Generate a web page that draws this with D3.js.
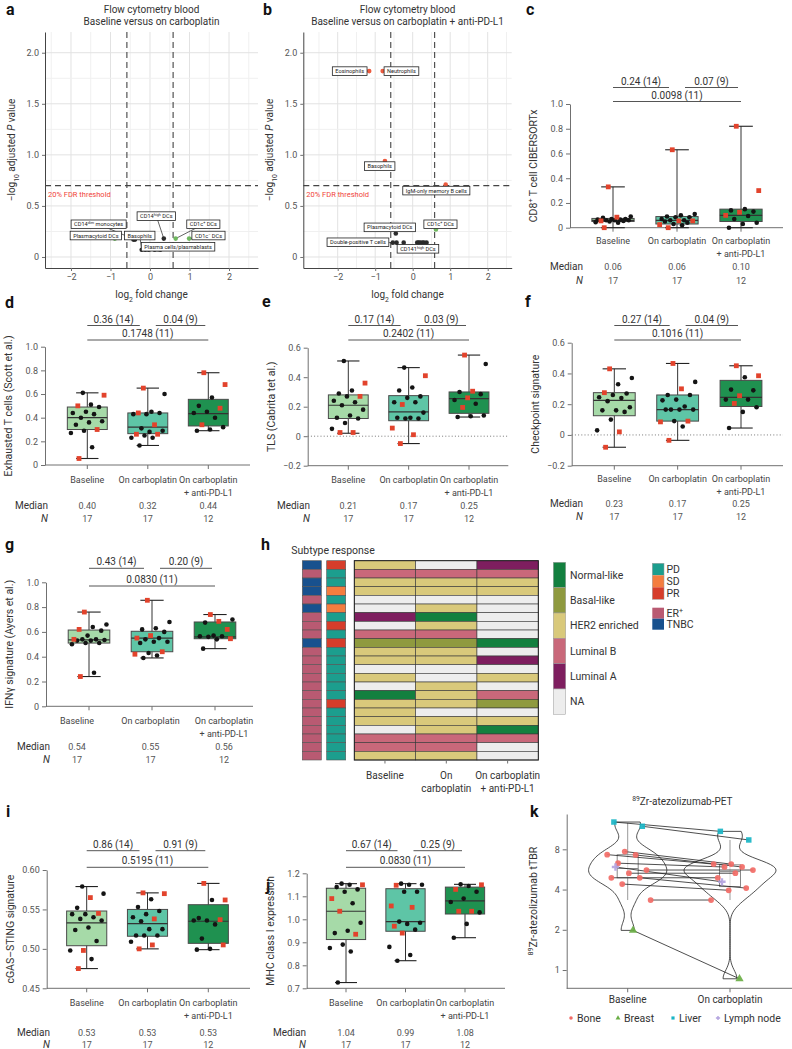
<!DOCTYPE html>
<html><head><meta charset="utf-8">
<script src="https://cdn.jsdelivr.net/npm/d3@7"></script>
<style>
body{margin:0;background:#fff}
text{font-family:Roboto,"Noto Sans",sans-serif}
</style></head><body>
<svg id="fig" width="792" height="1049"></svg>
<script>
// ---------------- data ----------------
const groups = ["Baseline", "On carboplatin", "On carboplatin + anti-PD-L1"];
const groupLines = [["Baseline"], ["On carboplatin"], ["On carboplatin", "+ anti-PD-L1"]];
const groupFill = ["#a6daa8", "#5ec5a6", "#1f9150"];
const groupN = [17, 17, 12];

// volcano a: baseline vs on carboplatin
const aNames = ["Plasmacytoid DCs", "CD14^dim^ monocytes", "Basophils", "CD14^high^ DCs", "Plasma cells/plasmablasts", "CD1c^+^ DCs", "CD1c^−^ DCs", "", "", "", "", "", "", ""];
const aFC = [-0.89, -0.38, -0.21, 0.35, 0.46, 0.65, 0.99, -0.42, -0.12, -0.03, 0.05, 0.12, 0.20, 0.26];
const aP = [0.18, 0.17, 0.07, 0.18, 0.11, 0.18, 0.18, 0.17, 0.07, 0.07, 0.08, 0.07, 0.075, 0.07];
// volcano b: baseline vs on carboplatin + anti-PD-L1
const bNames = ["Eosinophils", "Neutrophils", "Basophils", "IgM-only memory B cells", "CD1c^+^ DCs", "Plasmacytoid DCs", "Double-positive T cells", "CD141^high^ DCs", "", "", "", "", "", "", ""];
const bFC = [-1.16, -0.80, -0.74, 0.88, 0.62, -0.45, -0.53, 0.26, -0.43, -0.24, 0.12, 0.16, 0.20, 0.30, 0.37];
const bP = [1.82, 1.82, 0.94, 0.71, 0.27, 0.23, 0.14, 0.14, 0.14, 0.14, 0.14, 0.14, 0.14, 0.14, 0.14];
const fcCut = 0.585, fdrCut = 0.699;

// box panels: stats = [min, q1, median, q3, max]
const cStats = [[0, 0.05, 0.06, 0.075, 0.33], [0, 0.03, 0.06, 0.09, 0.63], [0, 0.05, 0.10, 0.15, 0.82]];
const cBlack = [[0.06, 0.06, 0.055, 0.065, 0.07, 0.09, 0.05, 0.045, 0.06, 0.065, 0.07, 0.08, 0.04], [0.10, 0.11, 0.09, 0.085, 0.07, 0.06, 0.05, 0.04, 0.03, 0.02, 0.085, 0.06], [0.15, 0.14, 0.13, 0.095, 0.07, 0.04, 0.03, 0]];
const cRed = [[0.33, 0, 0.055, 0.085], [0.63, 0, 0.055, 0.025, 0.055], [0.82, 0.30, 0.125, 0.10]];
const cPval = ["0.24 (14)", "0.07 (9)", "0.0098 (11)"];
const cMed = ["0.06", "0.06", "0.10"];

const dStats = [[0.055, 0.30, 0.40, 0.49, 0.61], [0.165, 0.265, 0.32, 0.44, 0.65], [0.29, 0.33, 0.435, 0.555, 0.78]];
const dBlack = [[0.61, 0.51, 0.49, 0.45, 0.44, 0.43, 0.40, 0.37, 0.36, 0.34, 0.29, 0.27, 0.15], [0.60, 0.45, 0.44, 0.43, 0.43, 0.31, 0.29, 0.28, 0.25, 0.23, 0.23, 0.165], [0.57, 0.50, 0.45, 0.44, 0.40, 0.32, 0.30, 0.29]];
const dRed = [[0.59, 0.50, 0.30, 0.055], [0.65, 0.44, 0.34, 0.26, 0.26], [0.78, 0.68, 0.48, 0.34]];
const dPval = ["0.36 (14)", "0.04 (9)", "0.1748 (11)"];
const dMed = ["0.40", "0.32", "0.44"];

const eStats = [[0.02, 0.12, 0.21, 0.28, 0.51], [-0.05, 0.105, 0.165, 0.275, 0.465], [0.13, 0.155, 0.255, 0.30, 0.55]];
const eBlack = [[0.51, 0.31, 0.29, 0.27, 0.24, 0.23, 0.21, 0.18, 0.14, 0.125, 0.12, 0.09, 0.05], [0.465, 0.33, 0.31, 0.27, 0.26, 0.23, 0.23, 0.16, 0.125, 0.125, 0.12, 0.12], [0.49, 0.30, 0.285, 0.245, 0.22, 0.14, 0.13, 0.135]];
const eRed = [[0.36, 0.27, 0.025, 0.025], [0.41, 0.215, 0.055, 0.01, -0.05], [0.55, 0.305, 0.26, 0.195]];
const ePval = ["0.17 (14)", "0.03 (9)", "0.2402 (11)"];
const eMed = ["0.21", "0.17", "0.25"];

const fStats = [[-0.08, 0.125, 0.225, 0.275, 0.43], [-0.035, 0.09, 0.165, 0.26, 0.465], [0.045, 0.185, 0.245, 0.355, 0.45]];
const fBlack = [[0.37, 0.33, 0.27, 0.26, 0.24, 0.22, 0.245, 0.18, 0.16, 0.16, 0.15, 0.10, 0.03], [0.345, 0.26, 0.26, 0.225, 0.23, 0.185, 0.165, 0.165, 0.165, 0.165, 0.09, 0.055], [0.375, 0.295, 0.29, 0.23, 0.23, 0.18, 0.15, 0.045]];
const fRed = [[0.43, 0.275, 0.02, -0.08], [0.465, 0.30, 0.09, 0.085, -0.035], [0.45, 0.385, 0.255, 0.205]];
const fPval = ["0.27 (14)", "0.04 (9)", "0.1016 (11)"];
const fMed = ["0.23", "0.17", "0.25"];

const gStats = [[0.24, 0.51, 0.535, 0.615, 0.76], [0.39, 0.44, 0.55, 0.605, 0.855], [0.465, 0.545, 0.56, 0.68, 0.74]];
const gBlack = [[0.66, 0.64, 0.61, 0.57, 0.54, 0.54, 0.535, 0.53, 0.53, 0.51, 0.51, 0.50, 0.27], [0.68, 0.63, 0.62, 0.60, 0.55, 0.54, 0.52, 0.52, 0.51, 0.43, 0.41, 0.39], [0.70, 0.675, 0.57, 0.565, 0.565, 0.56, 0.54, 0.465]];
const gRed = [[0.76, 0.62, 0.54, 0.24], [0.855, 0.57, 0.55, 0.44, 0.42], [0.74, 0.685, 0.62, 0.545]];
const gPval = ["0.43 (14)", "0.20 (9)", "0.0830 (11)"];
const gMed = ["0.54", "0.55", "0.56"];

const iStats = [[0.475, 0.504, 0.533, 0.548, 0.579], [0.50, 0.516, 0.532, 0.55, 0.571], [0.499, 0.507, 0.535, 0.556, 0.583]];
const iBlack = [[0.579, 0.570, 0.552, 0.544, 0.544, 0.540, 0.538, 0.536, 0.527, 0.524, 0.510, 0.498, 0.487], [0.563, 0.553, 0.548, 0.544, 0.540, 0.535, 0.525, 0.525, 0.517, 0.517, 0.517, 0.509], [0.562, 0.539, 0.536, 0.536, 0.531, 0.513, 0.500, 0.499]];
const iRed = [[0.565, 0.545, 0.498, 0.475], [0.571, 0.570, 0.538, 0.505, 0.500], [0.583, 0.562, 0.537, 0.505]];
const iPval = ["0.86 (14)", "0.91 (9)", "0.5195 (11)"];
const iMed = ["0.53", "0.53", "0.53"];

const jStats = [[0.725, 0.912, 1.035, 1.135, 1.155], [0.82, 0.948, 0.99, 1.133, 1.155], [0.92, 1.023, 1.08, 1.14, 1.152]];
const jBlack = [[1.155, 1.15, 1.14, 1.13, 1.12, 1.07, 0.985, 0.95, 0.94, 0.89, 0.875, 0.86, 0.725], [1.155, 1.15, 1.15, 1.12, 1.12, 0.99, 0.985, 0.98, 0.955, 0.88, 0.845, 0.82], [1.152, 1.145, 1.12, 1.09, 1.075, 1.03, 0.98, 0.92]];
const jRed = [[1.15, 1.09, 1.035, 0.935], [1.148, 1.058, 1.052, 0.97, 0.94], [1.15, 1.13, 1.035, 1.035]];
const jPval = ["0.67 (14)", "0.25 (9)", "0.0830 (11)"];
const jMed = ["1.04", "0.99", "1.08"];

// heatmap h (one row per patient)
const subtypes = ["Normal-like", "Basal-like", "HER2 enriched", "Luminal B", "Luminal A", "NA"];
const subtypeCodes = ["N", "Bs", "H", "LB", "LA", "NA"];
const subtypeColors = ["#13803f", "#8f9a3f", "#d9c97b", "#c9687a", "#7e1e5f", "#ededed"];
const responses = ["PD", "SD", "PR"];
const responseColors = ["#1c9e8e", "#f47d3f", "#d63d2b"];
const erTypes = ["ER^+^", "TNBC"];
const erColors = ["#b95a72", "#18518e"];
const hER = ["TNBC", "ER^+^", "TNBC", "TNBC", "ER^+^", "TNBC", "ER^+^", "ER^+^", "ER^+^", "TNBC", "ER^+^", "ER^+^", "ER^+^", "ER^+^", "ER^+^", "ER^+^", "ER^+^", "ER^+^", "ER^+^", "ER^+^", "ER^+^", "ER^+^", "ER^+^"];
const hResp = ["PR", "PD", "PD", "SD", "PD", "SD", "PD", "PR", "PD", "PR", "PD", "PD", "PD", "PD", "PD", "PD", "PR", "PD", "PD", "PD", "PD", "PD", "PD"];
const hBase = ["H", "LB", "H", "H", "NA", "NA", "LA", "NA", "LB", "Bs", "H", "H", "NA", "H", "NA", "N", "H", "H", "H", "NA", "LB", "LB", "H"];
const hOn = ["NA", "LB", "H", "H", "NA", "H", "N", "H", "LB", "Bs", "H", "H", "NA", "NA", "H", "H", "H", "NA", "H", "H", "LB", "LB", "H"];
const hCombo = ["LA", "LB", "H", "H", "NA", "NA", "NA", "NA", "NA", "N", "NA", "LA", "NA", "H", "NA", "LB", "Bs", "NA", "H", "N", "LB", "NA", "NA"];
const hCols = [["Baseline"], ["On", "carboplatin"], ["On carboplatin", "+ anti-PD-L1"]];

// k: 89Zr-atezolizumab tTBR per lesion, paired
const kCats = ["Baseline", "On carboplatin"];
const kType = ["Liver", "Liver", "Bone", "Bone", "Bone", "Bone", "Bone", "Bone", "Bone", "Bone", "Bone", "Bone", "Breast", "Lymph node"];
const kBase = [12.8, 11.9, 7.7, 7.3, 7.26, 6.3, 5.6, 5.3, 4.9, 4.9, 4.4, 3.34, 1.98, 5.9];
const kOn = [10.9, 9.4, 6.2, 6.2, 5.9, 5.9, 5.6, 5.3, 4.9, 4.1, 3.95, 3.34, 0.86, 4.57];
const kTypes = ["Bone", "Breast", "Liver", "Lymph node"];
const kColors = ["#f26b66", "#6aae45", "#19b5c6", "#b3a3df"];

// ---------------- drawing ----------------
const svg = d3.select("#fig");
const AXC = "#707070", TICKC = "#555";

function rich(sel, str) {
  str.split(/(\^[^^]*\^|_[^_]*_|\*[^*]*\*)/).filter(s => s.length).forEach(p => {
    const t = sel.append("tspan");
    if (p[0] === "^") t.text(p.slice(1, -1)).attr("baseline-shift", "super").attr("font-size", "68%");
    else if (p[0] === "_") t.text(p.slice(1, -1)).attr("baseline-shift", "sub").attr("font-size", "68%");
    else if (p[0] === "*") t.text(p.slice(1, -1)).attr("font-style", "italic");
    else t.text(p);
  });
  return sel;
}
function txt(x, y, s, size, opts = {}) {
  const t = svg.append("text").attr("x", x).attr("y", y).attr("font-size", size)
    .attr("fill", opts.fill || "#333").attr("text-anchor", opts.anchor || "start");
  if (opts.weight) t.attr("font-weight", opts.weight);
  if (opts.family) t.attr("font-family", opts.family);
  if (opts.rotate) t.attr("transform", `rotate(-90,${x},${y})`);
  return rich(t, s);
}
function styleAxis(a, fs) {
  a.attr("font-family", null).attr("font-size", null);
  a.select(".domain").attr("stroke", AXC);
  a.selectAll(".tick line").attr("stroke", AXC);
  a.selectAll(".tick text").attr("fill", TICKC).attr("font-size", fs);
}

function letter(x, y, s) {
  txt(x, y, s, 16, { weight: "bold", family: "'Liberation Sans', Arial, sans-serif", fill: "#111" });
}

// ---- volcano ----
function volcano(o, names, fc, p, labPos) {
  const g = svg.append("g");
  const x = d3.scaleLinear().domain(o.xdom).range([o.left, o.right]);
  const y = d3.scaleLinear().domain(o.ydom).range([o.bottom, o.top]);
  const xg = d3.range(-2.5, 2.51, 0.5).filter(v => v > o.xdom[0] && v < o.xdom[1]);
  const yg = d3.range(0, 2.21, 0.25);
  g.selectAll(".gx").data(xg).join("line").attr("x1", d => x(d)).attr("x2", d => x(d))
    .attr("y1", o.top).attr("y2", o.bottom)
    .attr("stroke", d => Number.isInteger(d) ? "#e2e2e2" : "#f0f0f0");
  g.selectAll(".gy").data(yg).join("line").attr("y1", d => y(d)).attr("y2", d => y(d))
    .attr("x1", o.left).attr("x2", o.right)
    .attr("stroke", d => Number.isInteger(d * 2) ? "#e2e2e2" : "#f0f0f0");
  const xa = g.append("g").attr("transform", `translate(0,${o.bottom})`)
    .call(d3.axisBottom(x).tickValues([-2, -1, 0, 1, 2]).tickFormat(d3.format("d")).tickSize(3).tickSizeOuter(0));
  const ya = g.append("g").attr("transform", `translate(${o.left},0)`)
    .call(d3.axisLeft(y).tickValues([0, 0.5, 1, 1.5, 2]).tickFormat(d => d === 0 ? "0" : d3.format(".1f")(d)).tickSize(3).tickSizeOuter(0));
  styleAxis(xa, 9); styleAxis(ya, 9);
  xa.select(".domain").attr("stroke", "#444"); ya.select(".domain").attr("stroke", "#444");
  // thresholds
  [-fcCut, fcCut].forEach(v => g.append("line").attr("x1", x(v)).attr("x2", x(v)).attr("y1", o.top).attr("y2", o.bottom)
    .attr("stroke", "#444").attr("stroke-width", 1.1).attr("stroke-dasharray", "6,4"));
  g.append("line").attr("x1", o.left).attr("x2", o.right).attr("y1", y(fdrCut)).attr("y2", y(fdrCut))
    .attr("stroke", "#444").attr("stroke-width", 1.1).attr("stroke-dasharray", "6,4");
  g.append("text").attr("x", o.left + 3).attr("y", y(fdrCut) + 11).attr("font-size", 7.5).attr("fill", "#f0433a").text("20% FDR threshold");
  // points
  const pts = fc.map((v, i) => ({ fc: v, p: p[i], name: names[i] }));
  const col = d => Math.abs(d.fc) > fcCut ? (d.p > fdrCut ? "#ec5a3e" : "#6fb85f") : "#2a2a2a";
  // leader lines
  pts.filter(d => d.name && labPos[d.name]).forEach(d => {
    const lp = labPos[d.name];
    g.append("line").attr("x1", x(d.fc)).attr("y1", y(d.p)).attr("x2", x(lp[0])).attr("y2", y(lp[1]))
      .attr("stroke", "#222").attr("stroke-width", 0.7);
  });
  g.selectAll(".pt").data(pts).join("circle").attr("cx", d => x(d.fc)).attr("cy", d => y(d.p)).attr("r", 2.3)
    .attr("fill", col);
  pts.filter(d => d.name && labPos[d.name]).forEach(d => {
    const lp = labPos[d.name];
    const lg = g.append("g");
    const r = lg.append("rect");
    const t = lg.append("text").attr("x", x(lp[0])).attr("y", y(lp[1]) + 2).attr("font-size", 5.6)
      .attr("fill", "#222").attr("text-anchor", "middle");
    rich(t, d.name);
    const w = t.node().getComputedTextLength() + 6;
    r.attr("x", x(lp[0]) - w / 2).attr("y", y(lp[1]) - 4.3).attr("width", w).attr("height", 8.6)
      .attr("fill", "#fff").attr("stroke", "#222").attr("stroke-width", 0.8);
  });
  // titles
  const cx = (o.left + o.right) / 2;
  txt(cx, 13, "Flow cytometry blood", 10, { anchor: "middle", fill: "#333" });
  txt(cx, 24.5, o.title, 10, { anchor: "middle", fill: "#333" });
  txt(cx, 298, "log_2_ fold change", 10, { anchor: "middle", fill: "#333" });
  txt(o.left - 30, (o.top + o.bottom) / 2, "−log_10_ adjusted *P* value", 10, { anchor: "middle", fill: "#333", rotate: true });
}

// ---- box panels ----
function boxPanel(o, stats, blacks, reds, pval, med, ylab) {
  const g = svg.append("g");
  const y = d3.scaleLinear().domain(o.ydom).range([o.bottom, o.top]);
  const x = d3.scalePoint().domain(groups).range([o.c0, o.c2]);
  const xl = d3.scalePoint().domain(groups).range(o.lab || [o.c0, o.c2]);
  const bw = x.step() * 0.66, cw = bw * 0.56;
  const ya = g.append("g").attr("transform", `translate(${o.left},0)`)
    .call(d3.axisLeft(y).tickValues(o.ticks).tickFormat(o.fmt).tickSize(4).tickSizeOuter(0));
  styleAxis(ya, 9);
  g.append("line").attr("x1", o.left).attr("x2", o.right).attr("y1", o.bottom).attr("y2", o.bottom).attr("stroke", AXC);
  g.selectAll(".xt").data(groups).join("line").attr("x1", d => x(d)).attr("x2", d => x(d))
    .attr("y1", o.bottom).attr("y2", o.bottom + 4).attr("stroke", AXC);
  if (o.zero) g.append("line").attr("x1", o.left).attr("x2", o.right).attr("y1", y(0)).attr("y2", y(0))
    .attr("stroke", "#777").attr("stroke-dasharray", "1,2.2");
  groups.forEach((gr, gi) => {
    const [mn, q1, md, q3, mx] = stats[gi], cx = x(gr);
    g.append("line").attr("x1", cx).attr("x2", cx).attr("y1", y(mn)).attr("y2", y(mx)).attr("stroke", "#333").attr("stroke-width", 1);
    [mn, mx].forEach(v => g.append("line").attr("x1", cx - cw / 2).attr("x2", cx + cw / 2).attr("y1", y(v)).attr("y2", y(v))
      .attr("stroke", "#222").attr("stroke-width", 1.1));
    g.append("rect").attr("x", cx - bw / 2).attr("width", bw).attr("y", y(q3)).attr("height", y(q1) - y(q3))
      .attr("fill", groupFill[gi]).attr("stroke", "#4a4a4a").attr("stroke-width", 1);
    g.append("line").attr("x1", cx - bw / 2).attr("x2", cx + bw / 2).attr("y1", y(md)).attr("y2", y(md)).attr("stroke", "#333").attr("stroke-width", 1.2);
    const items = reds[gi].map(v => ({ v, red: true })).concat(blacks[gi].map(v => ({ v, red: false })))
      .sort((a, b) => b.v - a.v);
    items.forEach((d, i) => { d.dx = (((i * 0.618034 + 0.37) % 1) - 0.5) * bw * 0.86; });
    g.selectAll(null).data(items.filter(d => !d.red)).join("circle")
      .attr("cx", d => cx + d.dx).attr("cy", d => y(d.v)).attr("r", 2.3).attr("fill", "#141414");
    g.selectAll(null).data(items.filter(d => d.red)).join("rect")
      .attr("x", d => cx + d.dx - 2.4).attr("y", d => y(d.v) - 2.4).attr("width", 4.8).attr("height", 4.8).attr("fill", "#e2432c");
    groupLines[gi].forEach((ln, li) => txt(xl(gr), o.labY + li * 13, ln, 9, { anchor: "middle", fill: "#444" }));
    txt(xl(gr), o.medY, med[gi], 9, { anchor: "middle", fill: "#555" });
    txt(xl(gr), o.nY, String(groupN[gi]), 9, { anchor: "middle", fill: "#555" });
  });
  // brackets
  const [g0, g1, g2] = groups.map(d => x(d));
  const br = [[g0, g1 - 8, o.b1, pval[0]], [g1 + 8, g2 - 3, o.b1, pval[1]], [g0, g2, o.b2, pval[2]]];
  br.forEach(([a, b, yy, s]) => {
    g.append("line").attr("x1", a).attr("x2", b).attr("y1", yy).attr("y2", yy).attr("stroke", "#555").attr("stroke-width", 1);
    txt((a + b) / 2, yy - 3, s, 10, { anchor: "middle", fill: "#333" });
  });
  txt(o.medX, o.medY, "Median", 10, { anchor: "end", fill: "#333" });
  txt(o.medX, o.nY, "*N*", 10, { anchor: "end", fill: "#333" });
  txt(o.left - 33, (o.top + o.bottom) / 2, ylab, 10.5, { anchor: "middle", fill: "#333", rotate: true });
}

// ---- heatmap ----
function heatmap(o) {
  const g = svg.append("g");
  const sc = d3.scaleOrdinal().domain(subtypeCodes).range(subtypeColors);
  const rc = d3.scaleOrdinal().domain(responses).range(responseColors);
  const ec = d3.scaleOrdinal().domain(erTypes).range(erColors);
  const rows = d3.range(hER.length);
  const y = d3.scaleBand().domain(rows).range([o.top, o.bottom]);
  const x = d3.scaleBand().domain([0, 1, 2]).range([o.left, o.right]);
  const cols = [hBase, hOn, hCombo];
  cols.forEach((col, ci) => {
    g.selectAll(null).data(rows).join("rect").attr("x", x(ci)).attr("width", x.bandwidth())
      .attr("y", r => y(r)).attr("height", y.bandwidth()).attr("fill", r => sc(col[r]))
      .attr("stroke", "#3a3a3a").attr("stroke-width", 0.6);
  });
  g.append("rect").attr("x", o.left).attr("y", o.top).attr("width", o.right - o.left).attr("height", o.bottom - o.top)
    .attr("fill", "none").attr("stroke", "#222").attr("stroke-width", 1);
  [[o.erX, hER, ec], [o.rsX, hResp, rc]].forEach(([sx, arr, s]) => {
    g.selectAll(null).data(rows).join("rect").attr("x", sx).attr("width", o.sideW)
      .attr("y", r => y(r)).attr("height", y.bandwidth()).attr("fill", r => s(arr[r]))
      .attr("stroke", "#555").attr("stroke-width", 0.6);
  });
  hCols.forEach((lines, ci) => {
    const cx = x(ci) + x.bandwidth() / 2;
    g.append("line").attr("x1", cx).attr("x2", cx).attr("y1", o.bottom).attr("y2", o.bottom + 3.5).attr("stroke", AXC);
    lines.forEach((ln, li) => txt(cx, o.bottom + 18.5 + li * 13, ln, 10, { anchor: "middle", fill: "#333" }));
  });
  txt(o.erX - 11, o.top - 7, "Subtype response", 10.5, { fill: "#333" });
  // legends
  const lb = d3.scaleBand().domain(subtypes).range([562.3, 714.3]);
  subtypes.forEach((s, i) => {
    g.append("rect").attr("x", 553.3).attr("width", 12.4).attr("y", lb(s)).attr("height", lb.bandwidth())
      .attr("fill", subtypeColors[i]).attr("stroke", "#999").attr("stroke-width", 0.5);
    txt(570, lb(s) + lb.bandwidth() / 2 + 3.8, s, 10.5, { fill: "#333" });
  });
  const rb = d3.scaleBand().domain(responses).range([563.3, 599.3]);
  responses.forEach((s, i) => {
    g.append("rect").attr("x", 652.3).attr("width", 11.7).attr("y", rb(s)).attr("height", rb.bandwidth()).attr("fill", responseColors[i]);
    txt(666.5, rb(s) + rb.bandwidth() / 2 + 3.8, s, 10.5, { fill: "#333" });
  });
  g.append("rect").attr("x", 652.3).attr("width", 11.7).attr("y", 563.3).attr("height", 36).attr("fill", "none").attr("stroke", "#999").attr("stroke-width", 0.5);
  const eb = d3.scaleBand().domain(erTypes).range([607.7, 629.7]);
  erTypes.forEach((s, i) => {
    g.append("rect").attr("x", 652.3).attr("width", 11.7).attr("y", eb(s)).attr("height", eb.bandwidth()).attr("fill", erColors[i]);
    txt(666.5, eb(s) + eb.bandwidth() / 2 + 3.8, s, 10.5, { fill: "#333" });
  });
}

// ---- k ----
function violinPanel(o) {
  const g = svg.append("g");
  const y = d3.scaleLog().domain(o.ydom).range([o.bottom, o.top]);
  const x = d3.scalePoint().domain(kCats).range([o.c0, o.c1]);
  const ya = g.append("g").attr("transform", `translate(${o.left},0)`)
    .call(d3.axisLeft(y).tickValues([1, 2, 4, 8]).tickFormat(d3.format("d")).tickSize(4).tickSizeOuter(0));
  styleAxis(ya, 9);
  g.append("line").attr("x1", o.left).attr("x2", o.right).attr("y1", o.bottom).attr("y2", o.bottom).attr("stroke", AXC);
  kCats.forEach(c => {
    g.append("line").attr("x1", x(c)).attr("x2", x(c)).attr("y1", o.bottom).attr("y2", o.bottom + 4).attr("stroke", AXC);
    txt(x(c), o.bottom + 15, c, 10, { anchor: "middle", fill: "#333" });
  });
  const sets = [kBase, kOn];
  // densities on log10 scale
  const dens = sets.map(vals => {
    const lv = vals.map(Math.log10).sort(d3.ascending);
    const iqr = d3.quantile(lv, 0.75) - d3.quantile(lv, 0.25);
    const bw = 0.9 * Math.min(d3.deviation(lv), iqr / 1.34) * Math.pow(lv.length, -0.2);
    const lo = lv[0], hi = lv[lv.length - 1];
    const grid = d3.range(0, 81).map(k => lo + (hi - lo) * k / 80);
    return grid.map(t => [t, d3.mean(lv, v => Math.exp(-0.5 * ((t - v) / bw) ** 2)) / (bw * Math.sqrt(2 * Math.PI))]);
  });
  const maxD = d3.max(dens.flat(), d => d[1]);
  const hw = x.step() * 0.45;
  dens.forEach((dd, si) => {
    const cx = x(kCats[si]);
    const area = d3.area().x0(d => cx - hw * d[1] / maxD).x1(d => cx + hw * d[1] / maxD).y(d => y(Math.pow(10, d[0])));
    g.append("path").attr("d", area(dd)).attr("fill", "none").attr("stroke", "#222").attr("stroke-width", 0.8);
  });
  // boxes (log scale)
  sets.forEach((vals, si) => {
    const cx = x(kCats[si]);
    const lv = vals.map(Math.log10).sort(d3.ascending);
    const q1 = d3.quantile(lv, 0.25), q2 = d3.quantile(lv, 0.5), q3 = d3.quantile(lv, 0.75), r = 1.5 * (q3 - q1);
    const lo = d3.min(lv.filter(v => v >= q1 - r)), hi = d3.max(lv.filter(v => v <= q3 + r));
    const p = v => y(Math.pow(10, v));
    g.append("line").attr("x1", cx).attr("x2", cx).attr("y1", p(lo)).attr("y2", p(hi)).attr("stroke", "#999");
    g.append("rect").attr("x", cx - 10.5).attr("width", 21).attr("y", p(q3)).attr("height", p(q1) - p(q3))
      .attr("fill", "#fff").attr("fill-opacity", 0.6).attr("stroke", "#888");
    g.append("line").attr("x1", cx - 10.5).attr("x2", cx + 10.5).attr("y1", p(q2)).attr("y2", p(q2)).attr("stroke", "#888");
  });
  // jitter + pairs
  const jit = i => (((i * 0.618034 + 0.2) % 1) - 0.5) * 46;
  const pts = kBase.map((v, i) => ({
    t: kType[i], xb: x(kCats[0]) + jit(i), yb: y(v), xo: x(kCats[1]) + jit(i + 5), yo: y(kOn[i])
  }));
  pts.forEach(d => g.append("line").attr("x1", d.xb).attr("y1", d.yb).attr("x2", d.xo).attr("y2", d.yo)
    .attr("stroke", "#222").attr("stroke-width", 0.8));
  const ccol = d3.scaleOrdinal().domain(kTypes).range(kColors);
  const sym = d3.scaleOrdinal().domain(kTypes).range([d3.symbolCircle, d3.symbolTriangle, d3.symbolSquare, d3.symbolCross]);
  const size = { "Bone": 26, "Breast": 30, "Liver": 30, "Lymph node": 30 };
  pts.forEach(d => {
    [[d.xb, d.yb], [d.xo, d.yo]].forEach(([px, py]) => {
      g.append("path").attr("d", d3.symbol(sym(d.t), size[d.t])()).attr("transform", `translate(${px},${py})`)
        .attr("fill", ccol(d.t)).attr("opacity", 0.92);
    });
  });
  // legend
  const lx = [571, 618, 673, 718];
  kTypes.forEach((t, i) => {
    g.append("path").attr("d", d3.symbol(sym(t), 10)()).attr("transform", `translate(${lx[i]},1018)`).attr("fill", kColors[i]);
    txt(lx[i] + 6, 1021.5, t, 10.5, { fill: "#333" });
  });
  txt((o.left + o.right) / 2 + 3, 805, "^89^Zr-atezolizumab-PET", 10, { anchor: "middle", fill: "#333" });
  txt(o.left - 30, (o.top + o.bottom) / 2, "^89^Zr-atezolizumab tTBR", 10.5, { anchor: "middle", fill: "#333", rotate: true });
}

// ---------------- layout ----------------
letter(6, 15, "a"); letter(263, 15, "b"); letter(526, 15, "c");
letter(5, 308, "d"); letter(262, 307, "e"); letter(525, 307, "f");
letter(5, 550, "g"); letter(261, 550, "h"); letter(6, 817, "i"); letter(266, 891, "j"); letter(530, 817, "k");

volcano({ left: 45, right: 258, top: 32, bottom: 268, xdom: [-2.658, 2.734], ydom: [-0.108, 2.203], title: "Baseline versus on carboplatin" },
  aNames, aFC, aP, {
    "CD14^high^ DCs": [0.16, 0.40], "CD14^dim^ monocytes": [-1.3, 0.32], "CD1c^+^ DCs": [1.35, 0.32],
    "Plasmacytoid DCs": [-1.37, 0.21], "Basophils": [-0.26, 0.21], "CD1c^−^ DCs": [1.48, 0.21],
    "Plasma cells/plasmablasts": [0.71, 0.10]
  });
volcano({ left: 303.3, right: 511.7, top: 32, bottom: 268, xdom: [-2.917, 2.64], ydom: [-0.108, 2.203], title: "Baseline versus on carboplatin + anti-PD-L1" },
  bNames, bFC, bP, {
    "Eosinophils": [-1.68, 1.82], "Neutrophils": [-0.3, 1.82], "Basophils": [-0.88, 0.89],
    "IgM-only memory B cells": [0.63, 0.65], "CD1c^+^ DCs": [0.74, 0.32], "Plasmacytoid DCs": [-0.61, 0.29],
    "Double-positive T cells": [-1.46, 0.144], "CD141^high^ DCs": [0.14, 0.08]
  });

const f1 = d => d === 0 ? "0" : d3.format(".1f")(d);
boxPanel({ left: 570, right: 783, top: 104, bottom: 227.7, ydom: [0, 1], ticks: [0, 0.2, 0.4, 0.6, 0.8, 1], fmt: f1,
  c0: 613, c2: 741, b1: 87.5, b2: 101.5, labY: 244, medY: 270, nY: 284.3, medX: 583 },
  cStats, cBlack, cRed, cPval, cMed, "CD8^+^ T cell CIBERSORTx");
boxPanel({ left: 45, right: 250, top: 346.7, bottom: 465, ydom: [0, 1], ticks: [0, 0.2, 0.4, 0.6, 0.8, 1], fmt: f1,
  c0: 87.3, c2: 208.3, b1: 325.5, b2: 340, labY: 482.5, medY: 509, nY: 522.3, medX: 48 },
  dStats, dBlack, dRed, dPval, dMed, "Exhausted T cells (Scott et al.)");
boxPanel({ left: 307.7, right: 508.3, top: 347.7, bottom: 465.7, ydom: [-0.2, 0.6], ticks: [-0.2, 0, 0.2, 0.4, 0.6], fmt: f1, zero: true,
  c0: 348.3, c2: 469, b1: 325.5, b2: 340, labY: 482.5, medY: 509, nY: 522.3, medX: 310 },
  eStats, eBlack, eRed, ePval, eMed, "TLS (Cabrita tet al.)");
boxPanel({ left: 571.7, right: 783, top: 342.7, bottom: 465.7, ydom: [-0.2, 0.6], ticks: [-0.2, 0, 0.2, 0.4, 0.6], fmt: f1, zero: true,
  c0: 614.3, c2: 741, b1: 325.5, b2: 340, labY: 482.3, medY: 506.6, nY: 520, medX: 583 },
  fStats, fBlack, fRed, fPval, fMed, "Checkpoint signature");
boxPanel({ left: 46, right: 253, top: 582.3, bottom: 706.3, ydom: [0, 1], ticks: [0, 0.2, 0.4, 0.6, 0.8, 1], fmt: f1,
  c0: 89, c2: 215, lab: [77, 224], b1: 568.3, b2: 586, labY: 724.3, medY: 750, nY: 762.6, medX: 50 },
  gStats, gBlack, gRed, gPval, gMed, "IFNγ signature (Ayers et al.)");
boxPanel({ left: 46.7, right: 250, top: 870, bottom: 988.3, ydom: [0.45, 0.6], ticks: [0.45, 0.5, 0.55, 0.6], fmt: d3.format(".2f"),
  c0: 86.7, c2: 208.3, b1: 850.7, b2: 867.3, labY: 1005.8, medY: 1035.5, nY: 1048, medX: 50 },
  iStats, iBlack, iRed, iPval, iMed, "cGAS–STING signature");
boxPanel({ left: 306.7, right: 505, top: 873.3, bottom: 988.3, ydom: [0.7, 1.2], ticks: [0.7, 0.8, 0.9, 1.0, 1.1, 1.2], fmt: d3.format(".1f"),
  c0: 346, c2: 465, b1: 850.7, b2: 867.3, labY: 1005.8, medY: 1035.5, nY: 1048, medX: 306 },
  jStats, jBlack, jRed, jPval, jMed, "MHC class I expression");

heatmap({ left: 354.3, right: 538.3, top: 560.7, bottom: 760, erX: 302.3, rsX: 326.7, sideW: 19 });
violinPanel({ left: 566.7, right: 792, top: 814, bottom: 988.3, ydom: [0.73, 14.7], c0: 627.7, c1: 730 });
</script>
</body></html>
